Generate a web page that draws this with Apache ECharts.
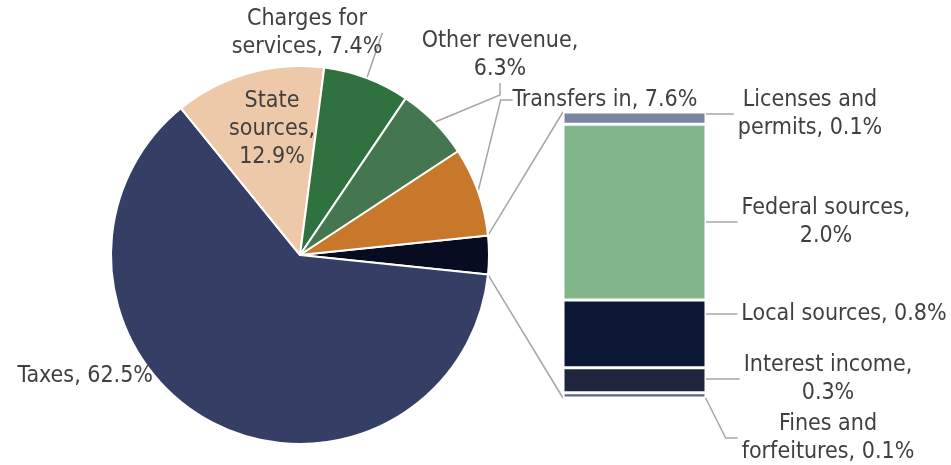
<!DOCTYPE html>
<html><head><meta charset="utf-8">
<script src="https://cdn.jsdelivr.net/npm/echarts@6/dist/echarts.min.js"></script>
<style>html,body{margin:0;padding:0;background:#fff}#c{width:951px;height:465px}</style>
</head><body><div id="c"></div>
<script>
// Pie (main) data — order: aggregated "other" slice first, then clockwise
const pieNames = ['Other', 'Taxes', 'State\nsources', 'Charges for\nservices', 'Other revenue', 'Transfers in'];
const pieValues = [3.3, 62.5, 12.9, 7.4, 6.3, 7.6];
const pieBreak = [false, false, true, false, true, false];
const pieColors = ['#080c20', '#353f66', '#edc9a9', '#2f723f', '#44764f', '#c8782a'];

// Bar (breakdown of "Other") — bottom to top
const barNames = ['Fines and\nforfeitures', 'Interest income', 'Local sources', 'Federal sources', 'Licenses and\npermits'];
const barValues = [0.06, 0.29, 0.78, 2.03, 0.14];
const barBreak = [false, true, false, true, false];
const barColors = ['#5a6488', '#20253e', '#0d1836', '#83b58b', '#7b84a3'];

const FONT = 'DejaVu Sans Condensed';
const FS = 23;
const TXT = '#404040';
const cx = 300, cy = 255, R = 189;
const gL = 563, gT = 112, gW = 143, gH = 286;

const total = pieValues.reduce((a, b) => a + b, 0);
const otherShare = pieValues[0] / total;
const halfDeg = otherShare * 360 / 2;

const pieLabelPos = [null, {x:153,y:376,align:'right'}, {x:272,y:129,align:'center'}, {x:307,y:33,align:'center'}, {x:500,y:55,align:'center'}, {x:605,y:100,align:'center'}];
const barLabelPos = [{x:828,y:438}, {x:828,y:379}, {x:844,y:314}, {x:826,y:222}, {x:810,y:114}];

const chart = echarts.init(document.getElementById('c'), null, {renderer:'canvas'});

const barTotal = barValues.reduce((a, b) => a + b, 0);
const series = [{
  type: 'pie',
  center: [cx, cy],
  radius: R,
  startAngle: halfDeg,
  clockwise: true,
  animation: false,
  itemStyle: {borderColor: '#fff', borderWidth: 2},
  label: {
    show: true, color: TXT, fontFamily: FONT, fontSize: FS, lineHeight: 28,
    formatter: p => pieNames[p.dataIndex] + ',' + (pieBreak[p.dataIndex] ? '\n' : ' ') + p.value.toFixed(1) + '%'
  },
  labelLine: {show: true, lineStyle: {color: '#a6a6a6', width: 1.5}, length: 10, length2: 12},
  labelLayout: p => {
    const pos = pieLabelPos[p.dataIndex];
    if (!pos) return {};
    return {x: pos.x, y: pos.y, align: pos.align, verticalAlign: 'middle'};
  },
  data: pieValues.map((v, i) => ({
    name: pieNames[i], value: v,
    itemStyle: {color: pieColors[i]},
    label: {show: i !== 0},
    labelLine: {show: i >= 3}
  }))
}];

barValues.forEach((v, i) => {
  series.push({
    type: 'bar', stack: 'o', name: barNames[i], barWidth: '100%',
    animation: false,
    itemStyle: {color: barColors[i], borderColor: '#fff', borderWidth: 1.5},
    label: {
      show: true, position: 'right', color: TXT, fontFamily: FONT, fontSize: FS, lineHeight: 28, align: 'center',
      padding: [0, 4],
      formatter: p => barNames[i] + ',' + (barBreak[i] ? '\n' : ' ') + p.value.toFixed(1) + '%'
    },
    labelLine: {show: true, lineStyle: {color: '#a6a6a6', width: 1.5}, length2: 12},
    labelLayout: () => ({x: barLabelPos[i].x, y: barLabelPos[i].y, align: 'center', verticalAlign: 'middle'}),
    data: [v]
  });
});

const a = halfDeg * Math.PI / 180;
const px = cx + R * Math.cos(a), pyTop = cy - R * Math.sin(a), pyBot = cy + R * Math.sin(a);

chart.setOption({
  backgroundColor: '#fff',
  animation: false,
  grid: {left: gL, top: gT, width: gW, height: gH},
  xAxis: {type: 'category', data: ['Other'], show: false},
  yAxis: {type: 'value', min: 0, max: barTotal, show: false},
  series: series,
  graphic: [
    {type: 'line', shape: {x1: px, y1: pyTop, x2: gL, y2: gT}, style: {stroke: '#a6a6a6', lineWidth: 1.5}},
    {type: 'line', shape: {x1: px, y1: pyBot, x2: gL, y2: gT + gH}, style: {stroke: '#a6a6a6', lineWidth: 1.5}}
  ]
});
</script></body></html>
